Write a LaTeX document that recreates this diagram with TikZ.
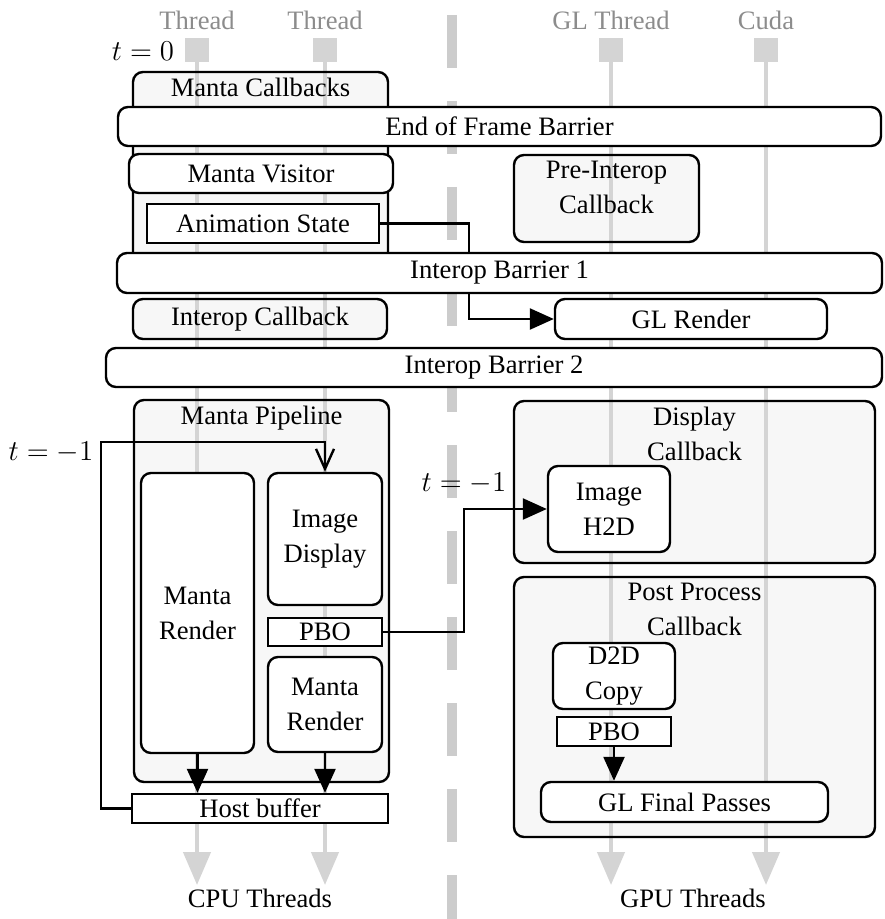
\documentclass[tikz,border=0pt]{standalone}
\usepackage{fontspec}
\setmainfont{Liberation Serif}
\usetikzlibrary{arrows.meta}
\pgfdeclarelayer{background}
\pgfdeclarelayer{threads}
\pgfsetlayers{background,threads,main}
\begin{document}
\begin{tikzpicture}[
  x=0.5pt, y=-0.5pt,
  every node/.style={font=\fontsize{13.3}{17.5}\selectfont},
  rbox/.style={rectangle, draw, line width=1.2pt, rounded corners=5pt, fill=white, align=center, inner sep=0pt},
  sbox/.style={rectangle, draw, line width=1.2pt, fill=white, align=center, inner sep=0pt},
  group/.style={rectangle, draw, line width=1.2pt, rounded corners=5pt, align=center, inner sep=0pt},
  title/.style={anchor=north, align=center, inner sep=3.5pt},
  head/.style={text=black!45},
  tick/.style={rectangle, fill=black!17, minimum size=12pt, inner sep=0pt},
  thread/.style={line width=2.2pt, draw=black!17, -{Triangle[width=13.5pt,length=16.5pt]}},
  divider/.style={line width=5pt, draw=black!20, dash pattern=on 26.5pt off 16.5pt},
  flow/.style={line width=1.2pt, -{Triangle[width=10.5pt,length=12pt]}},
  back/.style={line width=1.2pt, -{Straight Barb[width=9pt,length=10pt]}}
]
  \useasboundingbox (0,0) rectangle (884,919);

  % Thread heads
  \node[head] (thr1) at (197,20) {Thread};
  \node[head] (thr2) at (325,20) {Thread};
  \node[head] (glthr) at (611,20) {GL Thread};
  \node[head] (cuda) at (766,20) {Cuda};
  \node[tick] (sq1) at (197,50) {};
  \node[tick] (sq2) at (325,50) {};
  \node[tick] (sq3) at (611,50) {};
  \node[tick] (sq4) at (766,50) {};
  \node (t0) at (143,51) {$t=0$};
  \coordinate (divtop) at (452,15);
  \coordinate (divbot) at (452,919);

  % Groups (fill goes on the background layer)
  \node[group, minimum width=127.5pt, minimum height=95pt] (cb) at (260.5,167) {};
  \node[title] (cbtitle) at (cb.north) {Manta Callbacks};
  \node[group, minimum width=92.5pt, minimum height=43.5pt] (preint) at (606.5,198.5) {};
  \node[title] (preinttitle) at (preint.north) {Pre-Interop\\Callback};
  \node[group, minimum width=127pt, minimum height=20pt] (intcb) at (260,319) {Interop Callback};
  \node[group, minimum width=127.5pt, minimum height=191pt] (pipe) at (261.5,591) {};
  \node[title] (pipetitle) at (pipe.north) {Manta Pipeline};
  \node[group, minimum width=180.5pt, minimum height=81pt] (disp) at (694.5,482) {};
  \node[title] (disptitle) at (disp.north) {Display\\Callback};
  \node[group, minimum width=180.5pt, minimum height=130pt] (post) at (694.5,707) {};
  \node[title] (posttitle) at (post.north) {Post Process\\Callback};

  % Barriers and stages
  \node[rbox, minimum width=381.5pt, minimum height=19.5pt] (eof) at (499.5,126.5) {End of Frame Barrier};
  \node[rbox, minimum width=132pt, minimum height=19.5pt] (visitor) at (261,173.5) {Manta Visitor};
  \node[sbox, minimum width=116pt, minimum height=19.5pt] (anim) at (263,223.5) {Animation State};
  \node[rbox, minimum width=382.5pt, minimum height=20pt] (ib1) at (499.5,273) {Interop Barrier 1};
  \node[rbox, minimum width=136pt, minimum height=20pt] (glr) at (691,319) {GL Render};
  \node[rbox, minimum width=388pt, minimum height=19.5pt] (ib2) at (494,367.5) {Interop Barrier 2};

  % CPU side
  \node[rbox, minimum width=56.5pt, minimum height=140pt] (mr1) at (197.5,613) {Manta\\Render};
  \node[rbox, minimum width=57pt, minimum height=66pt] (imgd) at (325,539) {Image\\Display};
  \node[sbox, minimum width=57pt, minimum height=14pt] (pbo1) at (325,632) {PBO};
  \node[rbox, minimum width=57pt, minimum height=47.5pt] (mr2) at (325,704.5) {Manta\\Render};
  \node[sbox, minimum width=128pt, minimum height=14.5pt] (host) at (260,808.5) {Host buffer};
  \node (tm1a) at (51,452) {$t=-1$};
  \coordinate (loop) at (101,442);

  % GPU side
  \node[rbox, minimum width=61pt, minimum height=43pt] (h2d) at (609,509) {Image\\H2D};
  \node (tm1b) at (464,483) {$t=-1$};
  \node[rbox, minimum width=61pt, minimum height=33pt] (d2d) at (614,676) {D2D\\Copy};
  \node[sbox, minimum width=57pt, minimum height=14.5pt] (pbo2) at (614,731.5) {PBO};
  \node[rbox, minimum width=143.5pt, minimum height=20pt] (glfp) at (684.5,802) {GL Final Passes};

  \node[anchor=north, inner sep=2pt] (cpu) at (260,885) {CPU Threads};
  \node[anchor=north, inner sep=2pt] (gpu) at (693,885) {GPU Threads};

  \begin{pgfonlayer}{background}
    \foreach \g in {cb,preint,intcb,pipe,disp,post}
      \fill[black!3, rounded corners=5pt] (\g.north west) rectangle (\g.south east);
  \end{pgfonlayer}

  \begin{pgfonlayer}{threads}
    \draw[divider] (divtop) -- (divbot);
    \foreach \s/\e in {sq1/cpu, sq2/cpu, sq3/gpu, sq4/gpu}
      \draw[thread] (\s) -- (\s |- \e.north);
    % Data flow
    \draw[flow] (anim.east) -- ++(89,0) |- (glr.west);
    \draw[flow] (pbo1.east) -- ++(81,0) |- (h2d.west);
    \draw[flow] (mr1.south) -- (mr1.south |- host.north);
    \draw[flow] (mr2.south) -- (mr2.south |- host.north);
    \draw[flow] (pbo2.south) -- (pbo2.south |- glfp.north);
    \draw[back] (host.west) -| (loop) -| (imgd.north);
  \end{pgfonlayer}
\end{tikzpicture}
\end{document}
